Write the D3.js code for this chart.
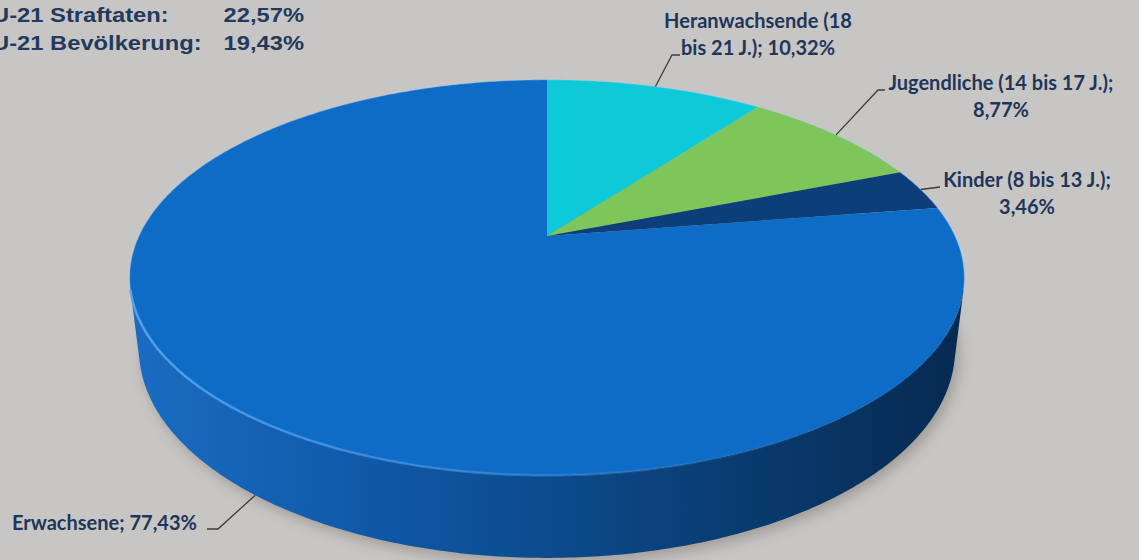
<!DOCTYPE html>
<html>
<head>
<meta charset="utf-8">
<script src="https://cdn.jsdelivr.net/npm/d3@7"></script>
<style>
  body { margin: 0; background: #c8c6c5; }
  svg { display: block; }
</style>
</head>
<body>
<div id="chart"></div>
<script>
// data
var categories = ["Heranwachsende (18 bis 21 J.)", "Jugendliche (14 bis 17 J.)", "Kinder (8 bis 13 J.)", "Erwachsene"];
var values = [10.32, 8.77, 3.46, 77.43];
var labelLines = [
    ["Heranwachsende (18", "bis 21 J.); 10,32%"],
    ["Jugendliche (14 bis 17 J.);", "8,77%"],
    ["Kinder (8 bis 13 J.);", "3,46%"],
    ["Erwachsene; 77,43%"]
];
var summaryLabels = ["U-21 Straftaten:", "U-21 Bevölkerung:"];
var summaryValues = ["22,57%", "19,43%"];

var topColors = ["#0ecad8", "#7cc65a", "#0c3e79", "#0f6cc6"];

var width = 1139, height = 560;

// label placement (text anchor, leader elbow + end)
var labelLayout = [
    { x: 758, y: 28, anchor: "middle", face: 0, shift: 0, leader: [[672, 55], [680, 55]] },
    { x: 1001, y: 90, anchor: "middle", face: 0, shift: 0, leader: [[878, 90], [885, 90]] },
    { x: 1027, y: 187, anchor: "middle", face: 0, shift: 0, leader: [[940, 187]] },
    { x: 12, y: 530, anchor: "start", face: 1, shift: -0.05, leader: [[218, 529], [207, 529]] }
];

// perspective camera for the 3d pie
var cx = 547, cy = 236, F = 1722, D = 4.22, phi = 27.6 * Math.PI / 180, depthH = 0.2;

function project(x, y, z) {
    var vy = y - D * Math.sin(phi), vz = z + D * Math.cos(phi);
    var dep = -vy * Math.sin(phi) + vz * Math.cos(phi);
    var up = vy * Math.cos(phi) + vz * Math.sin(phi);
    return [cx + F * x / dep, cy - F * up / dep];
}
function proj(theta, y) {
    return project(Math.sin(theta), y, Math.cos(theta));
}
function rim(a0, a1, y) {
    var n = Math.max(2, Math.ceil(Math.abs(a1 - a0) / 0.01));
    return d3.range(n + 1).map(function (i) { return proj(a0 + (a1 - a0) * i / n, y); });
}

var svg = d3.select("#chart").append("svg")
    .attr("width", width).attr("height", height)
    .style("font-family", "Lato, 'Open Sans', sans-serif");

svg.append("rect").attr("width", width).attr("height", height).attr("fill", "#c8c6c5");

var defs = svg.append("defs");
defs.append("filter").attr("id", "blur")
    .attr("x", "-20%").attr("y", "-20%").attr("width", "140%").attr("height", "140%")
    .append("feGaussianBlur").attr("stdDeviation", 7);

var sideGrad = defs.append("linearGradient").attr("id", "sideGrad")
    .attr("gradientUnits", "userSpaceOnUse")
    .attr("x1", 130).attr("x2", 965).attr("y1", 0).attr("y2", 0);
sideGrad.selectAll("stop")
    .data([[0, "#1a6cc2"], [0.3, "#0f58a6"], [0.55, "#0b4886"], [0.8, "#093768"], [1, "#062a50"]])
    .enter().append("stop")
    .attr("offset", function (d) { return d[0]; })
    .attr("stop-color", function (d) { return d[1]; });

var rimGrad = defs.append("linearGradient").attr("id", "rimGrad")
    .attr("gradientUnits", "userSpaceOnUse")
    .attr("x1", 130).attr("x2", 965).attr("y1", 0).attr("y2", 0);
rimGrad.selectAll("stop")
    .data([[0, "#5aa6f0", 0.9], [0.5, "#3f8fdf", 0.55], [0.85, "#2a6fb8", 0.05]])
    .enter().append("stop")
    .attr("offset", function (d) { return d[0]; })
    .attr("stop-color", function (d) { return d[1]; })
    .attr("stop-opacity", function (d) { return d[2]; });

var line = d3.line();
var arcs = d3.pie().sort(null).value(function (d) { return d; })(values);

// drop shadow
svg.append("path")
    .attr("d", line(rim(0, 2 * Math.PI, -depthH)) + "Z")
    .attr("transform", "translate(4,5)")
    .attr("fill", "#5e5650")
    .attr("opacity", 0.4)
    .attr("filter", "url(#blur)");

// side walls (only the front part is visible)
var vis0 = Math.acos(-1 / (D * Math.cos(phi)));
var vis1 = 2 * Math.PI - vis0;
arcs.forEach(function (a, i) {
    var s = Math.max(a.startAngle, vis0), e = Math.min(a.endAngle, vis1);
    if (e <= s) return;
    var pts = rim(s, e, 0).concat(rim(e, s, -depthH));
    svg.append("path")
        .attr("d", line(pts) + "Z")
        .attr("fill", i === 3 ? "url(#sideGrad)" : d3.color(topColors[i]).darker(0.8));
});

// top faces
var center = project(0, 0, 0);
svg.selectAll(".slice")
    .data(arcs)
    .enter().append("path")
    .attr("class", "slice")
    .attr("d", function (a) { return line([center].concat(rim(a.startAngle, a.endAngle, 0))) + "Z"; })
    .attr("fill", function (a, i) { return topColors[i]; });

// faint light edge on the far rim
svg.append("path")
    .attr("d", line(rim(vis1, vis0 + 2 * Math.PI, 0)))
    .attr("fill", "none")
    .attr("stroke", "#9fd0f5")
    .attr("stroke-opacity", 0.35)
    .attr("stroke-width", 1.2);

// bright rim along the front edge
svg.append("path")
    .attr("d", line(rim(vis0, vis1, 0)))
    .attr("fill", "none")
    .attr("stroke", "url(#rimGrad)")
    .attr("stroke-width", 2.5);

// labels with leader lines
arcs.forEach(function (a, i) {
    var L = labelLayout[i];
    var mid = (a.startAngle + a.endAngle) / 2 + L.shift;
    var start = L.face === 0 ? proj(mid, 0) : proj(mid, -depthH);
    svg.append("path")
        .attr("d", line([start].concat(L.leader)))
        .attr("fill", "none")
        .attr("stroke", "#3c3c3c")
        .attr("stroke-width", 1.3);
    var t = svg.append("text")
        .attr("text-anchor", L.anchor)
        .attr("font-size", 20)
        .attr("font-weight", 700)
        .attr("fill", "#1d365a");
    labelLines[i].forEach(function (s, j) {
        t.append("tspan").attr("x", L.x).attr("y", L.y + j * 27).text(s);
    });
});

// summary block, top left (text in the source is slightly stretched)
var summary = svg.append("g")
    .attr("transform", "scale(1.13,1)")
    .style("font-family", "'Liberation Sans', Arial, sans-serif")
    .attr("font-size", 21)
    .attr("font-weight", 700)
    .attr("fill", "#223a5e");
summaryLabels.forEach(function (s, j) {
    summary.append("text").attr("x", -7).attr("y", 22 + j * 28).text(s);
    summary.append("text").attr("x", 304 / 1.13).attr("y", 22 + j * 28)
        .attr("text-anchor", "end").text(summaryValues[j]);
});
</script>
</body>
</html>
